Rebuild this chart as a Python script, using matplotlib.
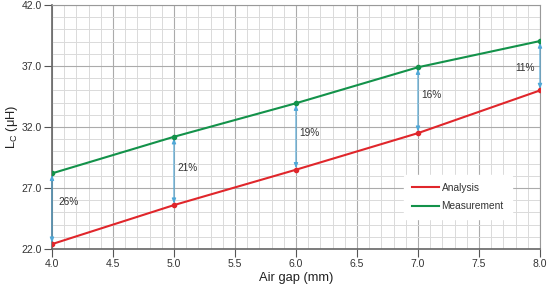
import matplotlib
matplotlib.use('Agg')
import matplotlib.pyplot as plt
from matplotlib.ticker import MultipleLocator, FormatStrFormatter

plt.rcParams['font.family'] = ['Liberation Sans', 'DejaVu Sans']

# data
air_gap = [4.0, 5.0, 6.0, 7.0, 8.0]
analysis = [22.4, 25.6, 28.5, 31.5, 35.0]
measurement = [28.2, 31.2, 33.95, 36.9, 39.05]
pct_labels = ['26%', '21%', '19%', '16%', '11%']
pct_x = [4.05, 5.03, 6.03, 7.03, 7.80]
pct_y = [25.85, 28.6, 31.5, 34.6, 36.8]

fig = plt.figure(figsize=(5.5, 2.87), dpi=100)
ax = fig.add_axes([0.0945, 0.1324, 0.8873, 0.850])

ax.set_xlim(4.0, 8.0)
ax.set_ylim(22.0, 42.0)
ax.xaxis.set_major_locator(MultipleLocator(0.5))
ax.xaxis.set_minor_locator(MultipleLocator(0.1))
ax.set_yticks([22.0, 27.0, 32.0, 37.0, 42.0])
ax.yaxis.set_minor_locator(MultipleLocator(1.0))
ax.xaxis.set_major_formatter(FormatStrFormatter('%.1f'))
ax.yaxis.set_major_formatter(FormatStrFormatter('%.1f'))

ax.grid(which='minor', color='#dadada', linewidth=0.7)
ax.grid(which='major', color='#ababab', linewidth=0.8)
ax.set_axisbelow(True)

ax.tick_params(which='major', direction='out', length=6, width=0.8, pad=1.5,
               color='#555555', labelcolor='#333333', labelsize=7.5)
ax.tick_params(which='minor', length=0)
for s in ['left', 'bottom']:
    ax.spines[s].set_color('#666666')
    ax.spines[s].set_linewidth(1.2)
for s in ['top', 'right']:
    ax.spines[s].set_color('#999999')
    ax.spines[s].set_linewidth(0.8)

# difference arrows
for x, a, m in zip(air_gap, analysis, measurement):
    ax.annotate('', xy=(x, m - 0.12), xytext=(x, a + 0.12),
                arrowprops=dict(arrowstyle='<|-|>,head_length=0.3,head_width=0.12',
                                color='#4fa8d8', lw=0.8, shrinkA=0, shrinkB=0))

ax.plot(air_gap, analysis, color='#e0262b', lw=1.5, marker='o', ms=3,
        label='Analysis', zorder=3)
ax.plot(air_gap, measurement, color='#13924a', lw=1.5, marker='o', ms=3,
        label='Measurement', zorder=3)

for t, x, y in zip(pct_labels, pct_x, pct_y):
    ax.text(x, y, t, fontsize=7.3, color='#333333', va='center', ha='left')

leg = ax.legend(handles=[ax.lines[0], ax.lines[1]], loc='center',
                bbox_to_anchor=(0.832, 0.213), frameon=True, fontsize=7.3,
                handlelength=2.6, handletextpad=0.3, labelspacing=0.85,
                borderpad=0.8)
leg.get_frame().set_edgecolor('white')
leg.get_frame().set_facecolor('white')
leg.get_frame().set_alpha(1)
for h in leg.get_lines():
    h.set_marker('')
for txt in leg.get_texts():
    txt.set_color('#333333')

ax.set_xlabel('Air gap (mm)', fontsize=9.3, color='#222222')
ax.xaxis.set_label_coords(0.5, -0.093)
ax.set_ylabel(r'L$_\mathregular{C}$ ($\mathregular{\mu}$H)', fontsize=9.3,
              color='#222222')
ax.yaxis.set_label_coords(-0.066, 0.5)

fig.savefig('out.png', dpi=100)
